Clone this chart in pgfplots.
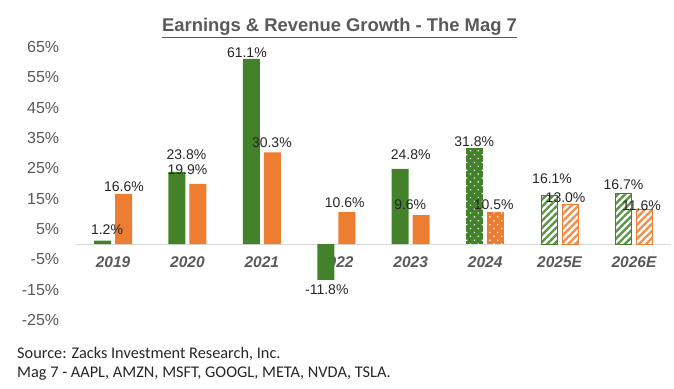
\documentclass[border=0pt]{standalone}
\usepackage{pgfplots}
\pgfplotsset{compat=1.18}
\usepackage{pgfplotstable}
\usepackage{fontspec}
\setmainfont{Liberation Sans}
\newfontfamily\calibri{Carlito}
\usetikzlibrary{patterns.meta}
\definecolor{cgreen}{HTML}{43822A}
\definecolor{corange}{HTML}{ED7D31}
\definecolor{tgray}{HTML}{595959}
\definecolor{lgray}{HTML}{D9D9D9}
\definecolor{ltext}{HTML}{262626}

\pgfplotstableread{
x y dx dy
0 1.2 -6 2
1 23.8 -1 9
2 61.1 -15 -2
3 -11.8 -9.5 -1
4 24.8 0 6
5 31.8 -11 -2
6 16.1 -7.5 8
7 16.7 -10.5 0
}\earn

\pgfplotstableread{
x y dx dy
0 16.6 11 -1
1 19.9 0 6
2 30.3 10 1
3 10.6 8.5 1
4 9.6 -0.5 2
5 10.5 8.5 -1
6 13.0 6 -2
7 11.6 7.5 -5
}\rev

\pgfplotsset{
  lbl/.style={
    point meta=y,
    visualization depends on={\thisrow{dx}\as\lblx},
    visualization depends on={\thisrow{dy}\as\lbly},
    nodes near coords={\pgfmathprintnumber[fixed,fixed zerofill,precision=1]{\pgfplotspointmeta}\%},
    every node near coord/.append style={xshift=\lblx pt, yshift=\lbly pt,
      font=\fontsize{14}{16}\selectfont, text=ltext},
  },
  barE/.style={ybar, bar width=17pt, bar shift=-10.5pt},
  barR/.style={ybar, bar width=17pt, bar shift=10.5pt},
}

\begin{document}
\begin{tikzpicture}
\path[use as bounding box] (0,0) rectangle (674pt,388pt);
\begin{axis}[
  at={(75.8pt,68pt)}, anchor=south west,
  scale only axis, width=595.4pt, height=273pt,
  xmin=-0.5, xmax=7.5, ymin=-25, ymax=65,
  axis x line=middle, axis y line=left,
  x axis line style={-, draw=lgray, line width=1pt},
  y axis line style={draw=none},
  xtick={0,...,7},
  xticklabels={2019,2020,2021,2022,2023,2024,2025E,2026E},
  xtick style={draw=none}, ytick style={draw=none},
  ytick={-25,-15,...,65},
  /pgf/number format/assume math mode=true,
  yticklabel={\pgfmathprintnumber{\tick}\%},
  yticklabel style={font=\fontsize{16}{18}\selectfont, text=tgray, xshift=-11pt},
  xticklabel style={font=\bfseries\itshape\fontsize{15.5}{18}\selectfont, text=tgray, yshift=-7pt},
  clip=false,
]
% Earnings
\addplot[barE, fill=cgreen, draw=none, restrict x to domain=-0.5:4.5, lbl] table[x=x,y=y] {\earn};
\addplot[barE, fill=cgreen, draw=none,
  postaction={pattern={Dots[radius=0.9pt,distance=5.5pt,angle=45]}, pattern color=white},
  restrict x to domain=4.5:5.5, lbl] table[x=x,y=y] {\earn};
\addplot[ybar, bar width=16pt, bar shift=-10.5pt, draw=cgreen, line width=0.8pt,
  pattern={Lines[angle=45,distance=5pt,line width=2.4pt]}, pattern color=cgreen!85,
  restrict x to domain=5.5:7.5, lbl] table[x=x,y=y] {\earn};
% Revenue
\addplot[barR, fill=corange, draw=none, restrict x to domain=-0.5:4.5, lbl] table[x=x,y=y] {\rev};
\addplot[barR, fill=corange, draw=none,
  postaction={pattern={Dots[radius=0.9pt,distance=5.5pt,angle=45]}, pattern color=white},
  restrict x to domain=4.5:5.5, lbl] table[x=x,y=y] {\rev};
\addplot[ybar, bar width=16pt, bar shift=10.5pt, draw=corange, line width=0.8pt,
  pattern={Lines[angle=45,distance=5pt,line width=2.4pt]}, pattern color=corange!85,
  restrict x to domain=5.5:7.5, lbl] table[x=x,y=y] {\rev};
\end{axis}
\node[anchor=base, text=tgray, font=\bfseries\fontsize{18.4}{22}\selectfont] at (339.5pt,356pt)
  {\underline{Earnings \& Revenue Growth - The Mag 7}};
\node[anchor=base west, text=ltext, font=\calibri\fontsize{16.3}{18}\selectfont, inner sep=0pt] at (17pt,30pt)
  {Source: Zacks Investment Research, Inc.};
\node[anchor=base west, text=ltext, font=\calibri\fontsize{16.3}{18}\selectfont, inner sep=0pt] at (17pt,11pt)
  {Mag 7 - AAPL, AMZN, MSFT, GOOGL, META, NVDA, TSLA.};
\end{tikzpicture}
\end{document}
